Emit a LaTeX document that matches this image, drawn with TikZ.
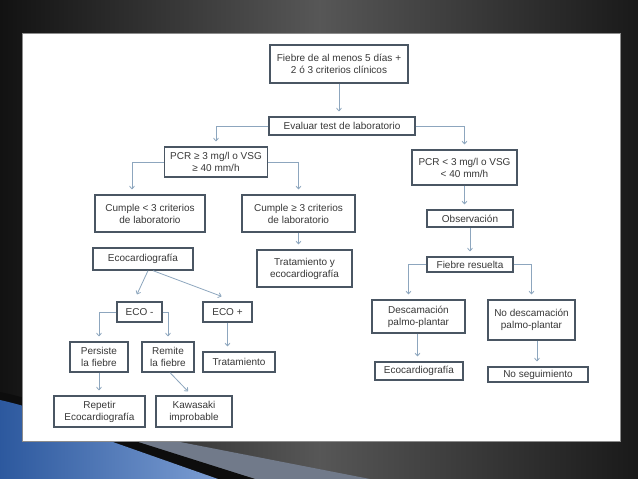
\documentclass[tikz,border=0pt]{standalone}
\usepackage{fontspec}
\setmainfont{Liberation Sans}
\usetikzlibrary{arrows.meta}

\definecolor{marco}{HTML}{4A5663}
\definecolor{azulflecha}{HTML}{8DA6BE}
\definecolor{azulfondo}{HTML}{3468BA}
\definecolor{grisazul}{HTML}{717A8A}

\begin{document}
\begin{tikzpicture}[x=1pt,y=-1pt,
  caja/.style={draw=marco,line width=1.3pt,fill=white,align=center,inner sep=1pt,
    font=\fontsize{10}{12}\selectfont,text=black!78},
  flecha/.style={draw=azulflecha,line width=0.8pt,
    -{To[length=3.5pt,width=5.5pt]},shorten >=5pt}]
  \useasboundingbox (0,0) rectangle (638,479);
  % fondo de la diapositiva
  \shade[left color=black!93,right color=black!90,middle color=black!66] (0,0) rectangle (638,479);
  \fill[grisazul] (130,441) -- (175,441) -- (370,479) -- (255,479) -- cycle;
  \fill[black!95] (0,392) .. controls (50,402) and (95,425) .. (135,441)
     -- (255,479) -- (0,479) -- cycle;
  \shade[left color=azulfondo!85!black,right color=azulfondo!65!white]
    (0,400) .. controls (45,410) and (85,428) .. (110,441) -- (218,479) -- (0,479) -- cycle;
  \fill[white] (22,33) rectangle (620,441);
  \draw[black!45,line width=0.6pt] (22,33) rectangle (620,441);

  % rama principal
  \node[caja,minimum width=138pt,minimum height=38pt] (fiebre) at (339,64)
    {Fiebre de al menos 5 días +\\2 ó 3 criterios clínicos};
  \node[caja,minimum width=146pt,minimum height=18pt] (evaluar) at (342,126)
    {Evaluar test de laboratorio};
  \node[caja,minimum width=103pt,minimum height=30pt] (pcrA) at (216,162)
    {PCR ≥ 3 mg/l o VSG\\≥ 40 mm/h};
  \node[caja,minimum width=105pt,minimum height=35pt] (pcrB) at (464.5,167.5)
    {PCR < 3 mg/l o VSG\\< 40 mm/h};

  % PCR alta
  \node[caja,minimum width=110pt,minimum height=37pt] (cumpleA) at (150,213.5)
    {Cumple < 3 criterios\\de laboratorio};
  \node[caja,minimum width=113pt,minimum height=37pt] (cumpleB) at (298.5,213.5)
    {Cumple ≥ 3 criterios\\de laboratorio};
  \node[caja,minimum width=95pt,minimum height=37pt] (trat) at (304.5,268.5)
    {Tratamiento y\\ecocardiografía};
  \node[caja,minimum width=100pt,minimum height=22pt] (eco) at (143,259)
    {Ecocardiografía};
  \node[caja,minimum width=45pt,minimum height=20pt] (ecoM) at (139.5,312) {ECO -};
  \node[caja,minimum width=49pt,minimum height=20pt] (ecoP) at (227.5,312) {ECO +};
  \node[caja,minimum width=58pt,minimum height=30pt] (persiste) at (99,357)
    {Persiste\\la fiebre};
  \node[caja,minimum width=52pt,minimum height=30pt] (remite) at (168,357)
    {Remite\\la fiebre};
  \node[caja,minimum width=72pt,minimum height=20pt] (tratam) at (239,362) {Tratamiento};
  \node[caja,minimum width=91pt,minimum height=31pt] (repetir) at (99.5,411.5)
    {Repetir\\Ecocardiografía};
  \node[caja,minimum width=76pt,minimum height=31pt] (kawa) at (194,411.5)
    {Kawasaki\\improbable};

  % PCR baja
  \node[caja,minimum width=86pt,minimum height=17pt] (obs) at (470,218.5) {Observación};
  \node[caja,minimum width=86pt,minimum height=15pt] (fres) at (470,264.5) {Fiebre resuelta};
  \node[caja,minimum width=93pt,minimum height=33pt] (desc) at (418.5,316.5)
    {Descamación\\palmo-plantar};
  \node[caja,minimum width=87pt,minimum height=40pt] (nodesc) at (531.5,320)
    {No descamación\\palmo-plantar};
  \node[caja,minimum width=88pt,minimum height=18pt] (ecoR) at (419,371) {Ecocardiografía};
  \node[caja,minimum width=100pt,minimum height=15pt] (noseg) at (538,374.5) {No seguimiento};

  % conectores
  \draw[flecha] (fiebre.south) -- (fiebre.south |- evaluar.north);
  \draw[flecha] (evaluar.west) -| (pcrA.north);
  \draw[flecha] (evaluar.east) -| (pcrB.north);
  \draw[flecha] (pcrA.west) -| ([xshift=-18pt]cumpleA.north);
  \draw[flecha] (pcrA.east) -| (cumpleB.north);
  \draw[flecha] (cumpleB.south) -- (cumpleB.south |- trat.north);
  \draw[flecha,shorten >=0pt] ([xshift=5pt]eco.south) -- ([xshift=-2.5pt,yshift=7pt]ecoM.north);
  \draw[flecha,shorten >=0pt] ([xshift=10pt]eco.south) -- ([xshift=-6pt,yshift=5pt]ecoP.north);
  \draw[flecha] (ecoM.west) -| (persiste.north);
  \draw[flecha] (ecoM.east) -| (remite.north);
  \draw[flecha] (ecoP.south) -- (ecoP.south |- tratam.north);
  \draw[flecha] (persiste.south) -- (persiste.south |- repetir.north);
  \draw[flecha,shorten >=0pt] ([xshift=2pt]remite.south) -- ([xshift=-6pt,yshift=4pt]kawa.north);
  \draw[flecha] (pcrB.south) -- (pcrB.south |- obs.north);
  \draw[flecha] (obs.south) -- (fres.north);
  \draw[flecha] (fres.west) -| ([xshift=-10pt]desc.north);
  \draw[flecha] (fres.east) -| (nodesc.north);
  \draw[flecha] ([xshift=-1pt]desc.south) -- ([xshift=-1pt]desc.south |- ecoR.north);
  \draw[flecha] ([xshift=5.5pt]nodesc.south) -- ([xshift=5.5pt]nodesc.south |- noseg.north);
\end{tikzpicture}
\end{document}
